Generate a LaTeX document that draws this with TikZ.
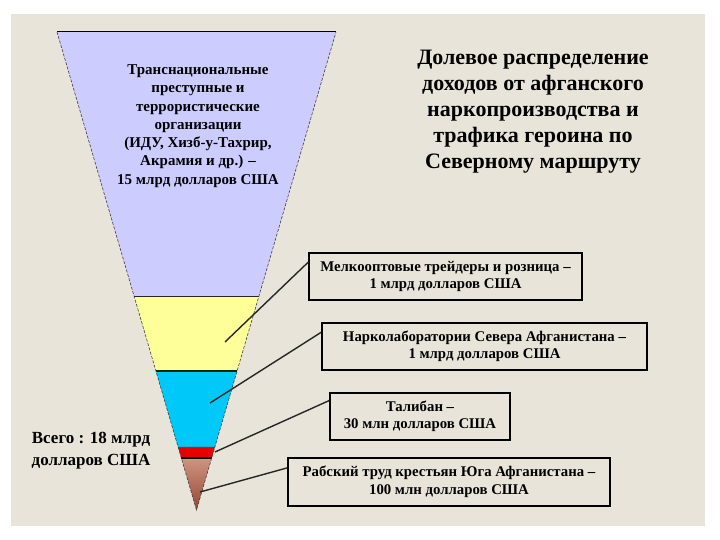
\documentclass[tikz,border=0pt]{standalone}
\usepackage{fontspec}
\setmainfont{Liberation Serif}
\definecolor{bgbeige}{RGB}{233,228,218}
\definecolor{segviolet}{RGB}{204,204,255}
\definecolor{segyellow}{RGB}{255,255,153}
\definecolor{segcyan}{RGB}{0,200,248}
\definecolor{segred}{RGB}{232,0,0}
\definecolor{brownhi}{RGB}{206,150,130}
\definecolor{brownlo}{RGB}{150,70,50}

\begin{document}
\begin{tikzpicture}[x=1pt,y=-1pt,
  fedge/.style={black!75,line width=.6pt,dash pattern=on 3pt off 1.5pt},
  cut/.style={black!85,line width=1.3pt},
  infobox/.style={draw=black,line width=1.4pt,fill=bgbeige,align=center,
    inner sep=0pt,font=\bfseries\fontsize{14.8}{17.5}\selectfont},
  pointer/.style={black!85,line width=1.4pt}]
\useasboundingbox (0,0) rectangle (720,540);
\fill[white] (0,0) rectangle (720,540);
\fill[bgbeige] (11,14) rectangle (705,526);

% funnel
\coordinate (tl) at (57,32);
\coordinate (tr) at (336,32);
\coordinate (apex) at (196.5,510);
\path (tl) -- (apex) coordinate[pos=.554] (l1) coordinate[pos=.709] (l2)
  coordinate[pos=.868] (l3) coordinate[pos=.891] (l4);
\path (tr) -- (apex) coordinate[pos=.554] (r1) coordinate[pos=.709] (r2)
  coordinate[pos=.868] (r3) coordinate[pos=.891] (r4);
\fill[segviolet] (tl) -- (tr) -- (r1) -- (l1) -- cycle;
\fill[segyellow] (l1) -- (r1) -- (r2) -- (l2) -- cycle;
\fill[segcyan] (l2) -- (r2) -- (r3) -- (l3) -- cycle;
\fill[segred] (l3) -- (r3) -- (r4) -- (l4) -- cycle;
\shade[top color=brownhi,bottom color=brownlo] (l4) -- (r4) -- (apex) -- cycle;
\draw[cut] (l1) -- (r1);
\draw[cut,black!60!green!40!black] (l2) -- (r2);
\draw[black!70,line width=.8pt] (l3) -- (r3);
\draw[black,line width=1.6pt] (l4) -- (r4);
\draw[fedge] (tl) -- (apex) -- (tr);
\draw[black,line width=1pt] (tl) -- (tr);

% texts
\node[align=center,font=\bfseries\fontsize{15}{18.3}\selectfont] (top) at (198,126)
  {Транснациональные\\преступные и\\террористические\\организации\\(ИДУ, Хизб-у-Тахрир,\\Акрамия и др.) --\\15 млрд долларов США};
\node[align=center,font=\bfseries\fontsize{22}{26}\selectfont] (title) at (533,112)
  {Долевое распределение\\доходов от афганского\\наркопроизводства и\\трафика героина по\\Северному маршруту};
\node[align=center,font=\bfseries\fontsize{17}{22}\selectfont] (total) at (91,451)
  {Всего : 18 млрд\\долларов США};

% boxes
\node[infobox,minimum width=273pt,minimum height=47pt] (trade) at (445.5,276.5)
  {Мелкооптовые трейдеры и розница --\\1 млрд долларов США};
\node[infobox,minimum width=325pt,minimum height=47pt] (labs) at (484.5,346.5)
  {Нарколаборатории Севера Афганистана --\\1 млрд долларов США};
\node[infobox,minimum width=180pt,minimum height=47pt] (taliban) at (420,416.5)
  {Талибан --\\30 млн долларов США};
\node[infobox,minimum width=322pt,minimum height=48pt] (slave) at (449,482)
  {Рабский труд крестьян Юга Афганистана --\\100 млн долларов США};

% pointers
\coordinate (p1) at (225,342);
\coordinate (p2) at (210,403);
\coordinate (p3) at (215,452);
\coordinate (p4) at (200,492);
\draw[pointer] (trade.174) -- (p1);
\draw[pointer] (labs.175) -- (p2);
\draw[pointer] (taliban.170) -- (p3);
\draw[pointer] (slave.175) -- (p4);
\end{tikzpicture}
\end{document}
